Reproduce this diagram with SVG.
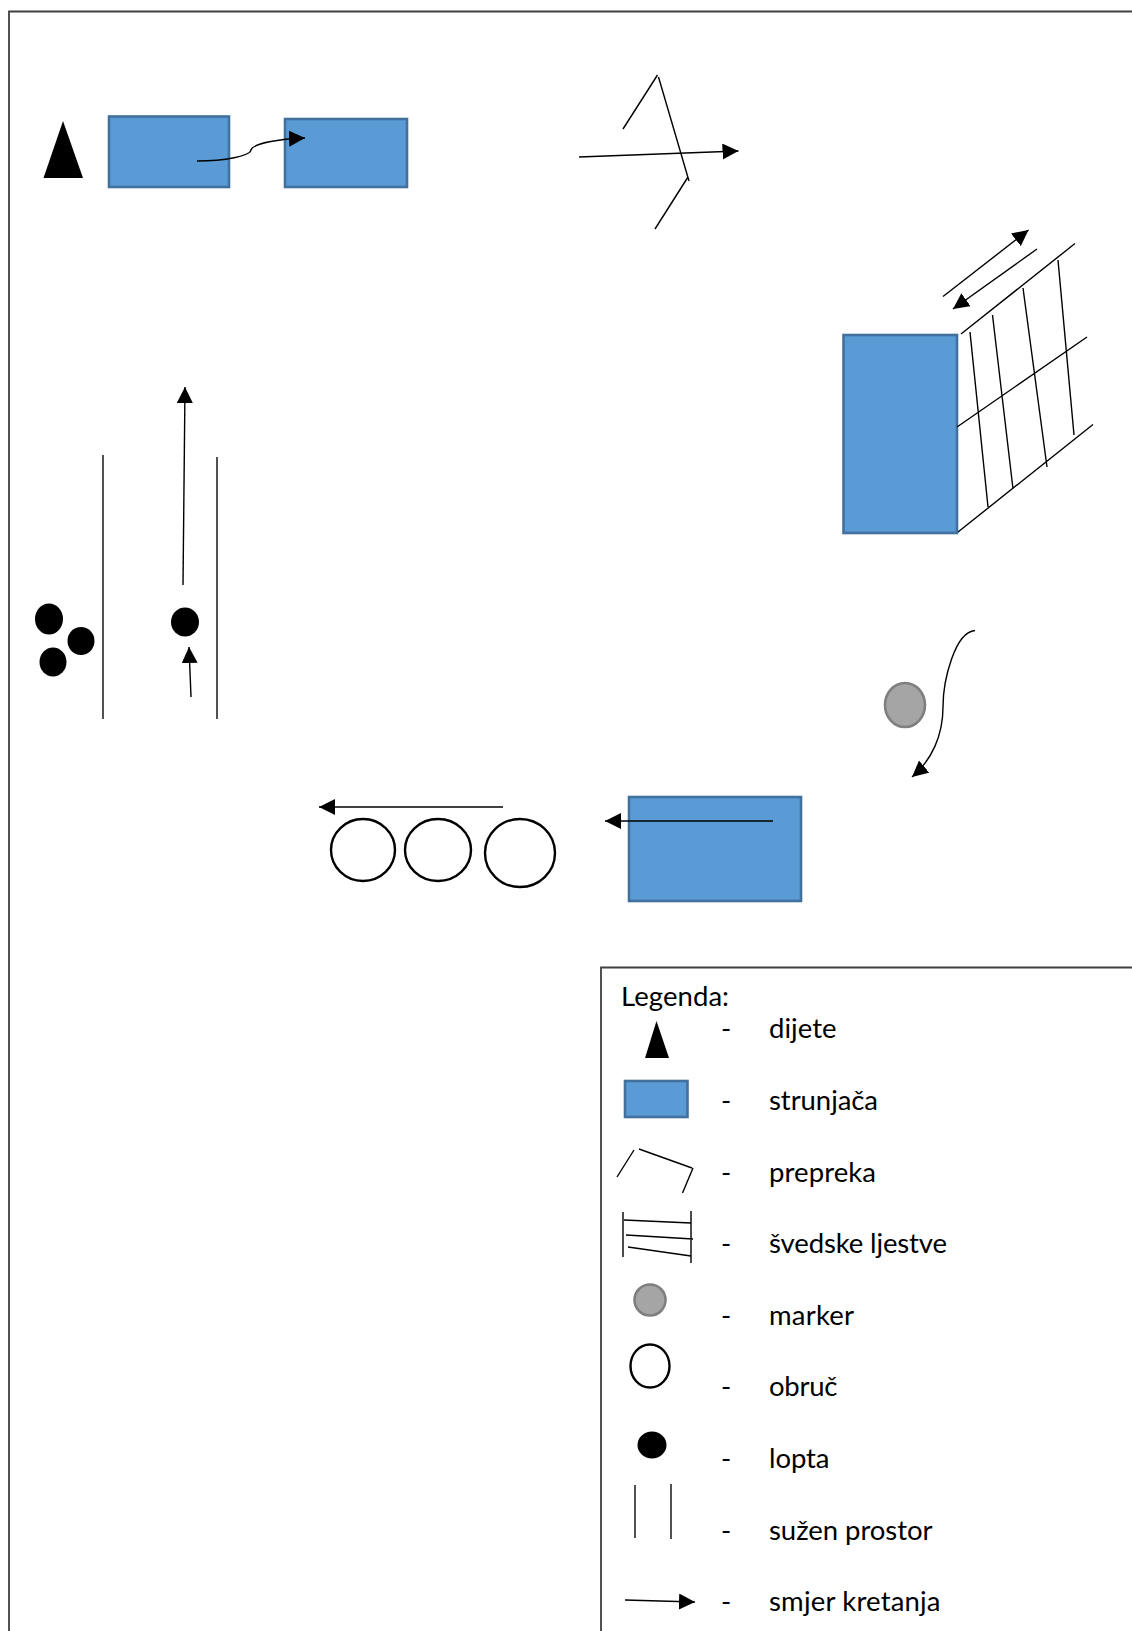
<svg xmlns="http://www.w3.org/2000/svg" width="1132" height="1631" viewBox="0 0 1132 1631">
<defs>
<marker id="arrow" markerUnits="userSpaceOnUse" markerWidth="16" markerHeight="16" refX="16" refY="8" orient="auto"><path d="M0 0L16 8L0 16Z" fill="#000"/></marker>
</defs>
<style>
.mat{fill:#5b9bd5;stroke:#41719c;stroke-width:2.6}
.ln{stroke:#000;stroke-width:1.4;fill:none}
.gl{stroke:#404040;stroke-width:1.8;fill:none}
.conn{stroke:#000;stroke-width:1.4;fill:none;marker-end:url(#arrow)}
.hoop{fill:#fff;stroke:#000;stroke-width:2.4}
.mk{fill:#a5a5a5;stroke:#7f7f7f;stroke-width:2.6}
text{font-family:Lato,"Open Sans","Liberation Sans",sans-serif;font-size:27.500px;fill:#000}
</style>
<rect width="1132" height="1631" fill="#fff"/>
<path id="frame" class="gl" d="M1132 11.500H9V1631"/>
<g id="child"><path d="M63 121L83 178H43.500Z"/></g>
<g id="mat1"><rect class="mat" x="109" y="116.500" width="120" height="70.500"/></g>
<g id="mat2"><rect class="mat" x="285" y="119" width="122" height="68"/></g>
<g id="obstacle"><path class="ln" d="M623 129L657.500 75M658.500 77L689 181M688 177L655 229"/></g>
<g id="mat3"><rect class="mat" x="843.500" y="335" width="113.500" height="198"/></g>
<g id="ladder"><path class="ln" d="M961 334L1075 243.500M957 427L1087 337M958 532L1093 424.500M970 332L988 507M992.500 315L1013 489M1023 288L1047 467M1058 260L1074 435"/></g>
<g id="narrow"><path class="gl" d="M103 455V719M217 457V719"/></g>
<g id="balls"><ellipse cx="49" cy="619" rx="14" ry="15.500"/><ellipse cx="81" cy="641" rx="13.500" ry="14"/><ellipse cx="53" cy="662" rx="13.500" ry="14.500"/></g>
<g id="ball"><ellipse cx="185" cy="622" rx="14" ry="14.500"/></g>
<g id="marker"><ellipse class="mk" cx="905" cy="705" rx="20" ry="22"/></g>
<g id="hoops"><ellipse class="hoop" cx="363" cy="850" rx="32" ry="31"/><ellipse class="hoop" cx="438" cy="850" rx="33" ry="31"/><ellipse class="hoop" cx="520" cy="853" rx="35" ry="34"/></g>
<g id="mat4"><rect class="mat" x="629" y="797" width="172" height="104"/></g>
<g id="connectors">
<path class="conn" d="M197 161C225 161 250 156 251 150C253 143 280 139 305 138"/>
<path class="conn" d="M579 157L738.500 151"/>
<path class="conn" d="M943 296.500L1028.500 230"/>
<path class="conn" d="M1037 249L953 309"/>
<path class="conn" d="M183 585L185 387"/>
<path class="conn" d="M191 697L189 647"/>
<path class="conn" d="M975 630.500C955 632 943 680 943 707C943 735 932 760 912 777"/>
<path class="conn" style="stroke:#404040;stroke-width:1.8" d="M503 807L319 807"/>
<path class="conn" d="M773 821L605 821"/>
</g>
<g id="legend">
<path class="gl" d="M1132 967.500H601V1631"/>
<text x="621" y="1006" textLength="108">Legenda:</text>
<text x="721" y="1038">-</text><text x="769" y="1038" textLength="67.500">dijete</text>
<text x="721" y="1110">-</text><text x="769" y="1110" textLength="109">strunjača</text>
<text x="721" y="1182">-</text><text x="769" y="1182" textLength="107">prepreka</text>
<text x="721" y="1253">-</text><text x="769" y="1253" textLength="178">švedske ljestve</text>
<text x="721" y="1325">-</text><text x="769" y="1325" textLength="85">marker</text>
<text x="721" y="1396">-</text><text x="769" y="1396" textLength="68.500">obruč</text>
<text x="721" y="1468">-</text><text x="769" y="1468" textLength="60.500">lopta</text>
<text x="721" y="1540">-</text><text x="769" y="1540" textLength="163.500">sužen prostor</text>
<text x="721" y="1611">-</text><text x="769" y="1611" textLength="171.500">smjer kretanja</text>
<path d="M656.500 1021L669 1058H645Z"/>
<rect class="mat" x="625" y="1081" width="62.500" height="36"/>
<path class="ln" d="M617 1177L634 1150M639 1149L692 1168M693 1168L682.500 1193"/>
<path class="ln" d="M623 1212V1257M691 1211V1263M624 1220L691 1223M626 1235L693 1239M628 1247L691 1256"/>
<ellipse class="mk" cx="650" cy="1300" rx="15.500" ry="15.500"/>
<ellipse class="hoop" cx="650" cy="1366" rx="19.500" ry="21.500"/>
<ellipse cx="652" cy="1445" rx="14.500" ry="13.500"/>
<path class="gl" d="M635 1485V1538M671 1484V1539"/>
<path class="conn" d="M625 1600L695 1602"/>
</g>
</svg>
